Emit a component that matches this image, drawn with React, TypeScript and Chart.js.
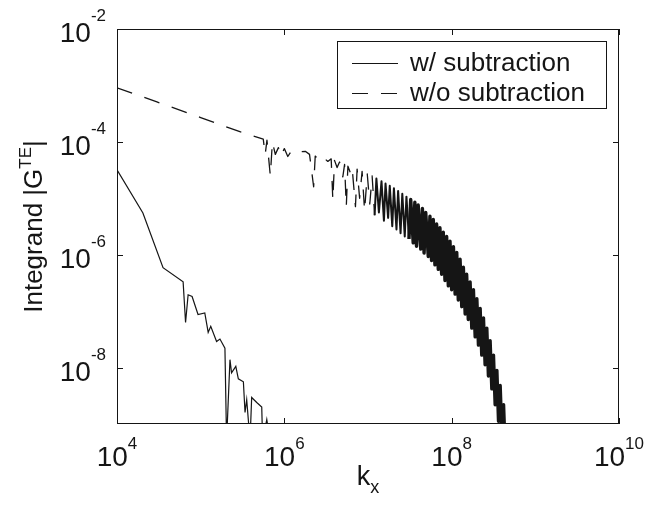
import React, { useEffect, useRef } from 'react';
import { Chart, registerables } from 'chart.js';

Chart.register(...registerables);

// ---- data ----
const withSubK = [
  1e4, 2.04e4, 3.55e4, 6.17e4, 6.6e4, 7.08e4, 7.9e4, 9.3e4, 1.12e5, 1.23e5,
  1.32e5, 1.55e5, 1.7e5, 1.95e5, 2.04e5, 2.24e5, 2.34e5, 2.63e5, 2.82e5, 3.24e5,
  3.39e5, 3.55e5, 3.89e5, 4.07e5, 4.68e5, 5.37e5, 5.5e5, 6.17e5, 6.76e5,
];
const withSubG = [
  3.2e-5, 5.5e-6, 5.9e-7, 3.3e-7, 6.3e-8, 1.95e-7, 1.82e-7, 8.7e-8, 9.3e-8, 4.2e-8,
  5.4e-8, 2.9e-8, 3.2e-8, 2.2e-8, 5e-10, 1.38e-8, 8.1e-9, 1.05e-8, 6.3e-9, 5.6e-9,
  1.6e-9, 2.7e-9, 5e-10, 2.95e-9, 2.4e-9, 2.0e-9, 5e-10, 1.2e-9, 5e-10,
];

const withoutSubK = [
  1e4, 3e4, 1e5, 2e5, 3e5, 3.9e5,
  5.6e5, 5.9e5, 6.2e5, 6.8e5, 7.2e5, 7.8e5, 8.5e5, 9.1e5, 1.0e6, 1.1e6, 1.23e6, 1.41e6, 1.78e6, 2.0e6,
  2.24e6, 2.34e6, 2.63e6, 2.88e6, 3.31e6, 3.63e6, 3.8e6, 3.98e6, 4.27e6, 4.57e6,
  5.0e6, 5.25e6, 5.5e6, 5.75e6, 6.17e6, 6.46e6, 7.08e6, 7.41e6, 7.94e6, 8.5e6,
  9.1e6, 9.8e6, 1.05e7, 1.12e7, 1.2e7, 1.26e7, 1.35e7, 1.45e7, 1.55e7, 1.62e7,
  1.74e7, 1.82e7, 1.95e7, 2.04e7, 2.19e7, 2.29e7, 2.45e7, 2.57e7, 2.75e7, 2.88e7,
  3.09e7, 3.24e7, 3.47e7, 3.63e7, 3.8e7, 3.98e7, 4.27e7, 4.47e7, 4.68e7, 4.9e7,
  5.25e7, 5.5e7, 5.75e7, 6.03e7, 6.31e7, 6.61e7, 6.92e7, 7.24e7, 7.59e7, 7.94e7,
  8.32e7, 8.71e7, 9.12e7, 9.55e7, 1.0e8, 1.05e8, 1.1e8, 1.15e8, 1.2e8, 1.26e8,
  1.32e8, 1.38e8, 1.45e8, 1.51e8, 1.58e8, 1.66e8, 1.74e8, 1.82e8, 1.91e8, 2.0e8,
  2.09e8, 2.19e8, 2.29e8, 2.4e8, 2.51e8, 2.63e8, 2.75e8, 2.88e8, 3.02e8, 3.16e8,
  3.31e8, 3.47e8, 3.63e8, 3.8e8, 3.98e8, 4.17e8, 4.37e8,
];
const withoutSubG = [
  9.1e-4, 5.1e-4, 2.7e-4, 1.86e-4, 1.5e-4, 1.32e-4,
  1.12e-4, 5.9e-5, 1.07e-4, 2.5e-5, 1.0e-4, 6.0e-5, 7.9e-5, 5.6e-5, 7.6e-5, 5.5e-5, 7.1e-5, 6.6e-5, 6.8e-5, 6.0e-5,
  1.6e-5, 5.6e-5, 4.7e-5, 5.4e-5, 4.5e-5, 5.0e-5, 9.3e-6, 4.7e-5, 3.5e-5, 4.4e-5,
  2.4e-5, 4.0e-5, 7.1e-6, 3.7e-5, 2.8e-5, 3.5e-5, 7.1e-6, 3.3e-5, 1.0e-5, 3.0e-5,
  6.0e-6, 2.7e-5, 7.9e-6, 2.5e-5, 5.0e-6, 2.24e-5, 5.6e-6, 2.0e-5, 4.0e-6, 1.82e-5,
  4.5e-6, 1.66e-5, 3.2e-6, 1.51e-5, 2.8e-6, 1.35e-5, 2.4e-6, 1.2e-5, 2.1e-6, 1.07e-5,
  1.9e-6, 9.5e-6, 1.62e-6, 8.5e-6, 1.41e-6, 7.6e-6, 1.26e-6, 6.6e-6, 1.07e-6, 5.6e-6,
  9.3e-7, 4.8e-6, 7.9e-7, 4.2e-6, 6.6e-7, 3.5e-6, 5.5e-7, 3.0e-6, 4.5e-7, 2.5e-6,
  3.5e-7, 2.1e-6, 2.8e-7, 1.74e-6, 2.4e-7, 1.38e-6, 2.0e-7, 1.1e-6, 1.58e-7, 8.3e-7,
  1.2e-7, 6.0e-7, 8.9e-8, 4.5e-7, 7.1e-8, 3.3e-7, 5.0e-8, 2.4e-7, 3.5e-8, 1.66e-7,
  2.5e-8, 1.12e-7, 1.66e-8, 7.6e-8, 1.12e-8, 5.0e-8, 7.1e-9, 3.0e-8, 4.2e-9, 1.66e-8,
  2.2e-9, 8.9e-9, 1.12e-9, 4.8e-9, 6.3e-10, 2.2e-9, 3.2e-10,
];

const seriesLabels = ['w/ subtraction', 'w/o subtraction'];

const xMin = 1e4;
const xMax = 1e10;
const yMin = 1e-9;
const yMax = 1e-2;

const xTickValues = [1e4, 1e6, 1e8, 1e10];
const xTickExponents = ['4', '6', '8', '10'];
const yTickValues = [1e-2, 1e-4, 1e-6, 1e-8];
const yTickExponents = ['-2', '-4', '-6', '-8'];
const tickBase = '10';

const xTitleMain = 'k';
const xTitleSub = 'x';
const yTitleMain = 'Integrand |G';
const yTitleSup = 'TE';
const yTitleEnd = '|';

// ---- styling ----
const INK = '#151515';
const FONT = '"Liberation Sans", Arial, Helvetica, sans-serif';
const DASH = [16, 13];
const DENSE_FROM = 1.2e7; // where the oscillating band becomes a solid mass
const HEAVY_FROM = 3.0e7; // where the band is drawn heavier

const decorations = {
  id: 'decorations',
  afterDraw(chart: any) {
    const ctx: CanvasRenderingContext2D = chart.ctx;
    const { left, right, top, bottom } = chart.chartArea;
    const xs = chart.scales.x;
    const ys = chart.scales.y;
    ctx.save();

    // frame
    ctx.strokeStyle = INK;
    ctx.lineWidth = 1;
    ctx.setLineDash([]);
    ctx.strokeRect(left + 0.5, top + 0.5, right - left - 1, bottom - top - 1);

    // inner tick marks on all four sides
    const tl = 6;
    ctx.beginPath();
    xTickValues.forEach((v) => {
      const px = Math.round(xs.getPixelForValue(v)) + 0.5;
      ctx.moveTo(px, bottom);
      ctx.lineTo(px, bottom - tl);
      ctx.moveTo(px, top);
      ctx.lineTo(px, top + tl);
    });
    yTickValues.forEach((v) => {
      const py = Math.round(ys.getPixelForValue(v)) + 0.5;
      ctx.moveTo(left, py);
      ctx.lineTo(left + tl, py);
      ctx.moveTo(right, py);
      ctx.lineTo(right - tl, py);
    });
    ctx.stroke();

    ctx.fillStyle = INK;
    ctx.textBaseline = 'alphabetic';
    const baseFont = `28px ${FONT}`;
    const expFont = `17px ${FONT}`;

    // x tick labels: whole "10^n" centred on the tick
    xTickValues.forEach((v, i) => {
      const px = xs.getPixelForValue(v);
      ctx.font = baseFont;
      const w = ctx.measureText(tickBase).width;
      ctx.font = expFont;
      const ew = ctx.measureText(xTickExponents[i]).width;
      const x0 = px - (w + ew) / 2;
      ctx.textAlign = 'left';
      ctx.font = baseFont;
      ctx.fillText(tickBase, x0, bottom + 42);
      ctx.font = expFont;
      ctx.fillText(xTickExponents[i], x0 + w, bottom + 25);
    });

    // y tick labels
    yTickValues.forEach((v, i) => {
      const py = ys.getPixelForValue(v);
      ctx.font = expFont;
      ctx.textAlign = 'right';
      const expRight = left - 11;
      const ew = ctx.measureText(yTickExponents[i]).width;
      ctx.fillText(yTickExponents[i], expRight, py - 8);
      ctx.font = baseFont;
      ctx.fillText(tickBase, expRight - ew, py + 13);
    });

    // x title with subscript
    {
      ctx.font = `27px ${FONT}`;
      const wMain = ctx.measureText(xTitleMain).width;
      ctx.font = `18px ${FONT}`;
      const wSub = ctx.measureText(xTitleSub).width;
      const cx = (left + right) / 2;
      const x0 = cx - (wMain + wSub) / 2;
      ctx.textAlign = 'left';
      ctx.font = `27px ${FONT}`;
      ctx.fillText(xTitleMain, x0, bottom + 61);
      ctx.font = `18px ${FONT}`;
      ctx.fillText(xTitleSub, x0 + wMain, bottom + 69);
    }

    // y title, rotated, with superscript
    {
      ctx.save();
      const cy = (top + bottom) / 2;
      ctx.translate(42, cy);
      ctx.rotate(-Math.PI / 2);
      ctx.font = `26px ${FONT}`;
      const w1 = ctx.measureText(yTitleMain).width;
      const w3 = ctx.measureText(yTitleEnd).width;
      ctx.font = `17px ${FONT}`;
      const w2 = ctx.measureText(yTitleSup).width;
      let x = -(w1 + w2 + w3) / 2;
      ctx.textAlign = 'left';
      ctx.font = `26px ${FONT}`;
      ctx.fillText(yTitleMain, x, 0);
      x += w1;
      ctx.font = `17px ${FONT}`;
      ctx.fillText(yTitleSup, x, -11);
      x += w2;
      ctx.font = `26px ${FONT}`;
      ctx.fillText(yTitleEnd, x, 0);
      ctx.restore();
    }

    // legend
    {
      const boxRight = right - 13;
      const boxTop = top + 12;
      const boxW = 269;
      const boxH = 67;
      const boxLeft = boxRight - boxW;
      ctx.fillStyle = '#ffffff';
      ctx.fillRect(boxLeft, boxTop, boxW, boxH);
      ctx.strokeStyle = INK;
      ctx.lineWidth = 1;
      ctx.strokeRect(boxLeft + 0.5, boxTop + 0.5, boxW, boxH);
      const rows = [boxTop + 22, boxTop + 52];
      const dashes = [[], DASH];
      ctx.font = `26px ${FONT}`;
      ctx.fillStyle = INK;
      ctx.textAlign = 'left';
      ctx.textBaseline = 'middle';
      rows.forEach((ry, i) => {
        ctx.setLineDash(dashes[i]);
        ctx.lineWidth = 1.2;
        ctx.beginPath();
        ctx.moveTo(boxLeft + 15, ry + 0.5);
        ctx.lineTo(boxLeft + 61, ry + 0.5);
        ctx.stroke();
        ctx.setLineDash([]);
        ctx.fillText(seriesLabels[i], boxLeft + 73, ry + 1);
      });
    }

    ctx.restore();
  },
};

export default function App() {
  const canvasRef = useRef<HTMLCanvasElement | null>(null);

  useEffect(() => {
    const canvas = canvasRef.current;
    if (!canvas) return;
    const chart = new Chart(canvas, {
      type: 'line',
      data: {
        datasets: [
          {
            label: seriesLabels[0],
            data: withSubK.map((k, i) => ({ x: k, y: withSubG[i] })),
            borderColor: INK,
            borderWidth: 1.2,
            pointRadius: 0,
            tension: 0,
            fill: false,
          },
          {
            label: seriesLabels[1],
            data: withoutSubK.map((k, i) => ({ x: k, y: withoutSubG[i] })),
            borderColor: INK,
            borderWidth: 1.3,
            borderDash: DASH,
            borderJoinStyle: 'round',
            segment: {
              borderDash: (c: any) => (c.p0.parsed.x >= DENSE_FROM ? [] : DASH),
              borderWidth: (c: any) =>
                c.p0.parsed.x >= HEAVY_FROM ? 3.4 : c.p0.parsed.x >= DENSE_FROM ? 2.0 : 1.3,
            },
            pointRadius: 0,
            tension: 0,
            fill: false,
          },
        ],
      },
      options: {
        responsive: false,
        animation: false,
        events: [],
        layout: { padding: { left: 117, right: 26, top: 29, bottom: 84 } },
        plugins: {
          legend: { display: false },
          tooltip: { enabled: false },
          title: { display: false },
        },
        scales: {
          x: {
            type: 'logarithmic',
            min: xMin,
            max: xMax,
            grid: { display: false },
            border: { display: false },
            ticks: { display: false },
            afterBuildTicks: (scale: any) => {
              scale.ticks = xTickValues.map((v) => ({ value: v }));
            },
            afterFit: (scale: any) => {
              scale.height = 0;
            },
          },
          y: {
            type: 'logarithmic',
            min: yMin,
            max: yMax,
            grid: { display: false },
            border: { display: false },
            ticks: { display: false },
            afterBuildTicks: (scale: any) => {
              scale.ticks = yTickValues.map((v) => ({ value: v }));
            },
            afterFit: (scale: any) => {
              scale.width = 0;
            },
          },
        },
      },
      plugins: [decorations],
    });
    return () => chart.destroy();
  }, []);

  return (
    <div style={{ position: 'fixed', left: 0, top: 0, width: 645, height: 508, background: '#ffffff' }}>
      <canvas ref={canvasRef} width={645} height={508} style={{ display: 'block' }} />
    </div>
  );
}
